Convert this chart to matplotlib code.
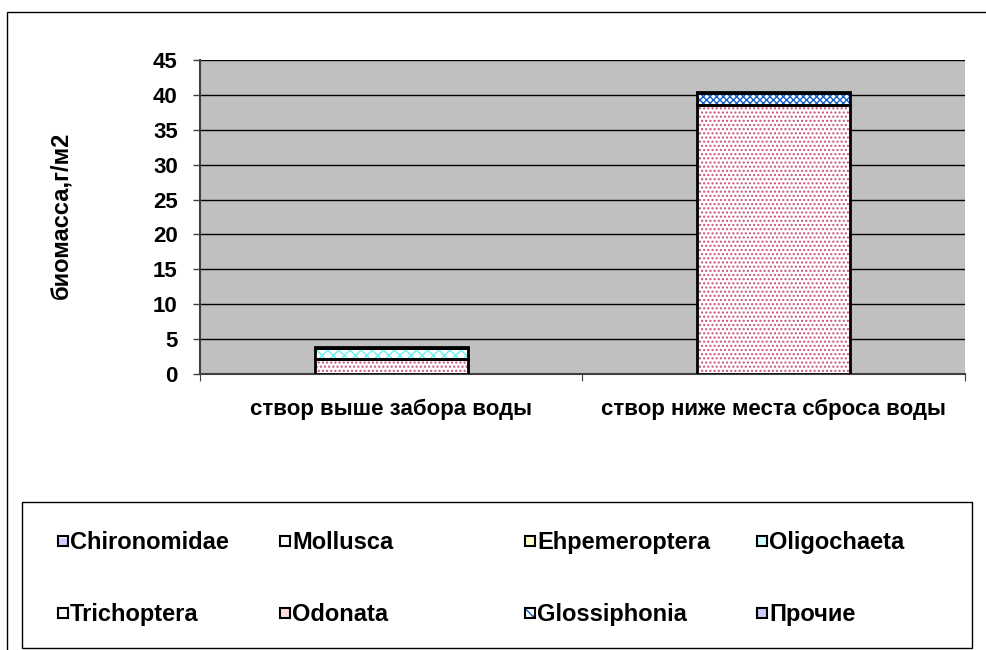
import matplotlib.pyplot as plt
from matplotlib.patches import Rectangle
import numpy as np

plt.rcParams['font.family'] = ['Liberation Sans', 'DejaVu Sans']
plt.rcParams['font.weight'] = 'bold'

# biomass by taxon, g/m2, for the two sampling sites
sites = ["створ выше забора воды", "створ ниже места сброса воды"]
taxa = ["Chironomidae", "Mollusca", "Ehpemeroptera", "Oligochaeta",
        "Trichoptera", "Odonata", "Glossiphonia", "Прочие"]
odonata = [2.1, 38.5]
oligochaeta = [1.65, 0.0]
glossiphonia = [0.0, 1.8]
chironomidae = [0.1, 0.05]

# stacking order bottom -> top with fill style (face, hatch, hatch colour)
stack = [
    ("Odonata", odonata, "white", "....", "#c8507a"),
    ("Oligochaeta", oligochaeta, "white", "xxx", "#66f0f0"),
    ("Glossiphonia", glossiphonia, "white", "xxxxx", "#1060c8"),
    ("Chironomidae", chironomidae, "#ccccff", None, None),
]

fig = plt.figure(figsize=(9.87, 6.5), dpi=100)
W, H = 987, 650

# outer chart frame
fig.patches.append(Rectangle((7 / W, -0.1), 1.1, (650 - 12) / H + 0.1,
                             transform=fig.transFigure, fill=False,
                             edgecolor="black", lw=1))

ax = fig.add_axes([200 / W, (H - 374) / H, 765 / W, 314 / H])
ax.set_facecolor("#c0c0c0")

x = np.arange(len(sites))
width = 0.4
bottom = np.zeros(len(sites))
for name, vals, face, hatch, hcol in stack:
    vals = np.array(vals)
    if hatch:
        ax.bar(x, vals, width, bottom=bottom, color=face, hatch=hatch,
               edgecolor=hcol, lw=0, zorder=3)
        ax.bar(x, vals, width, bottom=bottom, fill=False,
               edgecolor="black", lw=2, zorder=4)
    else:
        ax.bar(x, vals, width, bottom=bottom, color=face,
               edgecolor="black", lw=2, zorder=3)
    bottom += vals

ax.set_xlim(-0.5, 1.5)
ax.set_ylim(0, 45)
ax.set_yticks(np.arange(0, 46, 5))
ax.yaxis.grid(True, color="black", lw=1)
ax.set_axisbelow(True)
ax.tick_params(axis="y", labelsize=16, length=5, width=1, color="#404040", pad=11)
ax.set_xticks([-0.5, 0.5, 1.5])
ax.set_xticklabels([])
ax.set_xticks(x, minor=True)
ax.set_xticklabels(sites, minor=True, fontsize=16)
ax.tick_params(axis="x", which="major", length=5, color="#404040")
ax.tick_params(axis="x", which="minor", length=0, pad=18)
for s in ["top", "right"]:
    ax.spines[s].set_visible(False)
for s in ["left", "bottom"]:
    ax.spines[s].set_color("#404040")
    ax.spines[s].set_linewidth(1.5)
ax.set_ylabel("биомасса,г/м2", fontsize=17, fontweight="bold")
ax.yaxis.set_label_coords((72 - 200) / 765, 0.506)

# legend box
fig.patches.append(Rectangle((22 / W, (H - 648) / H), 950 / W, 146 / H,
                             transform=fig.transFigure, facecolor="white",
                             edgecolor="black", lw=1))
legend_style = {
    "Chironomidae": ("#ccccff", "--", "#ffffff"),
    "Mollusca": ("white", None, None),
    "Ehpemeroptera": ("#ffffcc", None, None),
    "Oligochaeta": ("#ccffff", None, None),
    "Trichoptera": ("#ffffff", "+", "#800080"),
    "Odonata": ("#ffdddd", "v", "#ff5050"),
    "Glossiphonia": ("#ffffff", "xx", "#1060c8"),
    "Прочие": ("#ccccff", None, None),
}
col_x = [58, 280, 525, 757]
row_y = [541, 613]
for i, name in enumerate(taxa):
    cx = col_x[i % 4]
    cy = row_y[i // 4]
    face, hatch, hcol = legend_style[name]
    fig.patches.append(Rectangle((cx / W, (H - cy - 5) / H), 10 / W, 10 / H,
                                 transform=fig.transFigure, facecolor=face,
                                 hatch=hatch, edgecolor=hcol or face, lw=0))
    fig.patches.append(Rectangle((cx / W, (H - cy - 5) / H), 10 / W, 10 / H,
                                 transform=fig.transFigure, fill=False,
                                 edgecolor="black", lw=1.5))
    fig.text((cx + 12) / W, (H - cy - 8) / H, name, fontsize=17,
             va="baseline", ha="left")

fig.savefig("out.png", dpi=100)
